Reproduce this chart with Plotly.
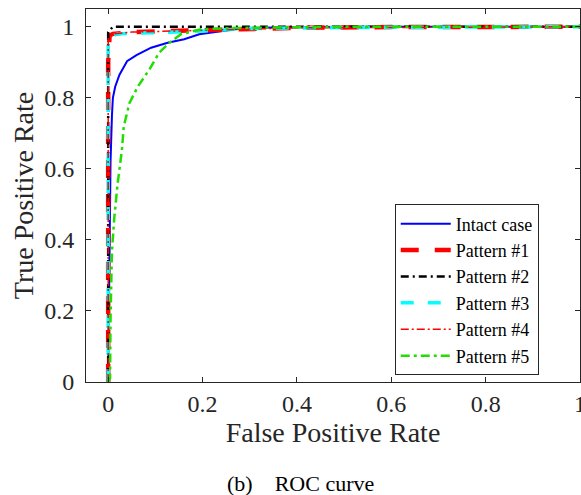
import plotly.graph_objects as go

# ---- data ----
series_names = ["Intact case", "Pattern #1", "Pattern #2", "Pattern #3", "Pattern #4", "Pattern #5"]

fpr_intact = [0, 0.002, 0.003, 0.005, 0.008, 0.010, 0.015, 0.024, 0.032, 0.040, 0.060, 0.091, 0.126, 0.161, 0.193, 0.246, 0.281, 0.350, 0.500, 0.700, 1.0]
tpr_intact = [0, 0.20, 0.45, 0.62, 0.75, 0.80, 0.832, 0.865, 0.884, 0.903, 0.920, 0.941, 0.955, 0.965, 0.979, 0.988, 0.995, 0.998, 1.0, 1.0, 1.0]

fpr_p1 = [0, 0.0, 0.003, 0.010, 0.050, 0.100, 0.200, 0.300, 0.400, 0.600, 0.800, 1.0]
tpr_p1 = [0, 0.90, 0.975, 0.980, 0.985, 0.987, 0.990, 0.993, 0.997, 0.999, 1.0, 1.0]

fpr_p2 = [0, 0.0, 0.010, 1.0]
tpr_p2 = [0, 0.985, 1.0, 1.0]

fpr_p3 = [0, 0.0, 0.020, 0.100, 0.200, 0.300, 0.500, 1.0]
tpr_p3 = [0, 0.970, 0.980, 0.983, 0.988, 0.995, 0.998, 1.0]

fpr_p4 = [0, 0.0, 0.010, 0.050, 0.200, 0.400, 1.0]
tpr_p4 = [0, 0.970, 0.980, 0.985, 0.990, 0.997, 1.0]

fpr_p5 = [0, 0.004, 0.005, 0.006, 0.008, 0.013, 0.020, 0.029, 0.033, 0.045, 0.063, 0.087, 0.108, 0.130, 0.154, 0.197, 0.250, 0.350, 0.500, 1.0]
tpr_p5 = [0, 0.010, 0.180, 0.274, 0.369, 0.463, 0.558, 0.652, 0.719, 0.785, 0.832, 0.879, 0.927, 0.955, 0.979, 0.993, 0.996, 0.998, 1.0, 1.0]

x_ticks = [0, 0.2, 0.4, 0.6, 0.8, 1]
x_tick_labels = ["0", "0.2", "0.4", "0.6", "0.8", "1"]
y_ticks = [0, 0.2, 0.4, 0.6, 0.8, 1]
y_tick_labels = ["0", "0.2", "0.4", "0.6", "0.8", "1"]

x_title = "False Positive Rate"
y_title = "True Positive Rate"
caption = "(b)\u00a0\u00a0\u00a0\u00a0ROC curve"

# ---- styles ----
FONT = "Liberation Serif"
TXT = "#262626"

styles = [
    dict(color="#0000ff", width=2, dash="solid"),
    dict(color="#ff0000", width=4.5, dash="18px,16px"),
    dict(color="#000000", width=2.5, dash="8px,4px,2px,4px"),
    dict(color="#00ffff", width=3.5, dash="13px,14px"),
    dict(color="#ff0000", width=1.5, dash="8px,3px,2px,3px"),
    dict(color="#22dd00", width=2.5, dash="9px,4px,3px,4px"),
]
xs = [fpr_intact, fpr_p1, fpr_p2, fpr_p3, fpr_p4, fpr_p5]
ys = [tpr_intact, tpr_p1, tpr_p2, tpr_p3, tpr_p4, tpr_p5]

fig = go.Figure()
for name, x, y, st in zip(series_names, xs, ys, styles):
    fig.add_trace(go.Scatter(x=x, y=y, mode="lines", name=name, line=st))

axis_common = dict(
    showline=True, linecolor=TXT, linewidth=1, mirror="ticks",
    ticks="inside", ticklen=5, tickcolor=TXT, tickwidth=1,
    showgrid=False, zeroline=False, automargin=False,
    ticklabeloverflow="allow",
    tickfont=dict(family=FONT, size=24, color=TXT),
)

fig.update_xaxes(range=[-0.047, 1.0], tickvals=x_ticks, ticktext=x_tick_labels,
                 title=dict(text=x_title, font=dict(family=FONT, size=28, color=TXT), standoff=6),
                 **axis_common)
fig.update_yaxes(range=[0, 1.05], tickvals=y_ticks, ticktext=y_tick_labels,
                 ticklabelstandoff=6,
                 title=dict(text=y_title, font=dict(family=FONT, size=28, color=TXT), standoff=2),
                 **axis_common)

fig.add_annotation(text=caption, xref="paper", yref="paper", x=0.434, y=-0.272,
                   xanchor="center", yanchor="middle", showarrow=False,
                   font=dict(family=FONT, size=22, color="#000000"))

fig.update_layout(
    width=581, height=495,
    margin=dict(l=86, r=1, t=9, b=113, autoexpand=False),
    plot_bgcolor="white", paper_bgcolor="white",
    legend=dict(x=0.625, y=0.476, xanchor="left", yanchor="top",
                bgcolor="white", bordercolor=TXT, borderwidth=1,
                font=dict(family=FONT, size=18, color="#000000"),
                itemwidth=50, tracegroupgap=0),
)

fig.write_html("out.html", config={"displayModeBar": False},
               post_script="document.body.style.margin='0';document.body.style.overflow='hidden';")
